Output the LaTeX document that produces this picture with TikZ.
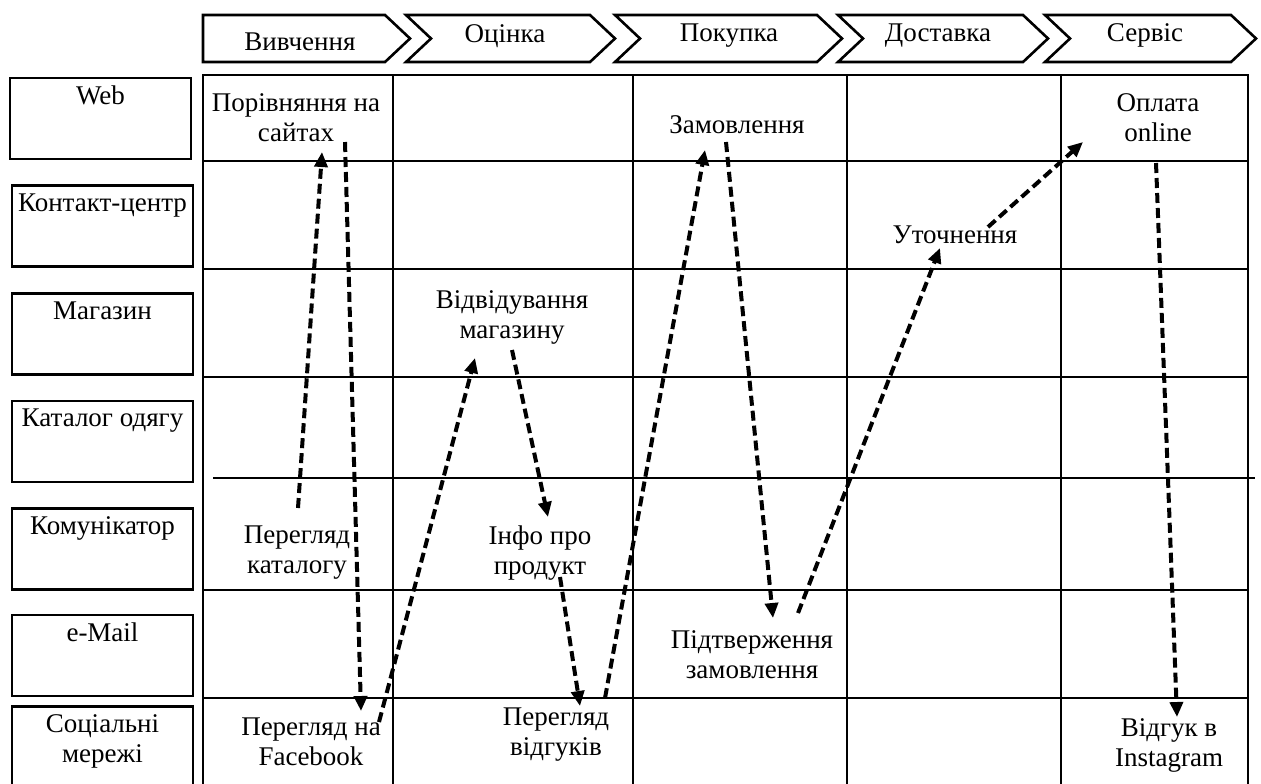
\documentclass[tikz,border=0pt]{standalone}
\usepackage{fontspec}
\setmainfont{Liberation Serif}
\usetikzlibrary{arrows.meta}

\tikzset{
  stage/.style={line width=1.3pt},
  stagetext/.style={anchor=base, inner sep=0pt},
  chan/.style={draw, line width=1.3pt, minimum width=90.5pt, minimum height=40.5pt, inner sep=0pt},
  chantext/.style={anchor=north, inner sep=4.5pt, align=center},
  touch/.style={align=center, inner sep=1pt},
  cell/.style={line width=0.7pt},
  flow/.style={-{Triangle[length=7.5pt,width=6.5pt]}, line width=2pt, dash pattern=on 5pt off 2.5pt},
}

\begin{document}
\begin{tikzpicture}[x=0.5pt, y=-0.5pt, font=\fontsize{13.5}{15}\selectfont]
  \useasboundingbox (0,0) rectangle (1261,783);

  % stages
  \draw[stage] (203,15) -- (385,15) -- (410,38.5) -- (385,62) -- (203,62) -- cycle;
  \draw[stage] (406,15) -- (590,15) -- (615,38.5) -- (590,62) -- (406,62) -- (431,38.5) -- cycle;
  \draw[stage] (615,15) -- (817,15) -- (842,38.5) -- (817,62) -- (615,62) -- (640,38.5) -- cycle;
  \draw[stage] (838,15) -- (1023,15) -- (1048,38.5) -- (1023,62) -- (838,62) -- (863,38.5) -- cycle;
  \draw[stage] (1045,15) -- (1231,15) -- (1256,38.5) -- (1231,62) -- (1045,62) -- (1070,38.5) -- cycle;
  \node[stagetext] (explore) at (300,50) {Вивчення};
  \node[stagetext] (assess) at (505,42) {Оцінка};
  \node[stagetext] (buy) at (729,41) {Покупка};
  \node[stagetext] (deliver) at (938,41) {Доставка};
  \node[stagetext] (service) at (1145,41) {Сервіс};

  % channels
  \node[chan, label={[chantext]north:Web}] (web) at (100.5,118.5) {};
  \node[chan, label={[chantext]north:Контакт-центр}] (call) at (102.5,226) {};
  \node[chan, label={[chantext]north:Магазин}] (shop) at (102.5,334) {};
  \node[chan, label={[chantext]north:Каталог одягу}] (catalog) at (102.5,441.5) {};
  \node[chan, label={[chantext]north:Комунікатор}] (messenger) at (102.5,549) {};
  \node[chan, label={[chantext]north:e-Mail}] (email) at (102.5,655.5) {};
  \node[chan, label={[chantext]north:Соціальні\\мережі}] (social) at (102.5,747) {};

  % grid
  \draw[line width=1.4pt] (203,75) rectangle (1248,795);
  \foreach \x in {393,633,847,1061}
    \draw[cell] (\x,75) -- (\x,795);
  \foreach \y in {161,269,377,590,698}
    \draw[cell] (203,\y) -- (1248,\y);
  \draw[cell] (213,478) -- (1255,478);

  % touchpoints
  \node[touch] (porivn) at (296,118) {Порівняння на\\сайтах};
  \node[touch] (zam) at (737,125) {Замовлення};
  \node[touch] (oplata) at (1158,118) {Оплата\\online};
  \node[touch] (utoch) at (955,235) {Уточнення};
  \node[touch] (vidv) at (512,317) {Відвідування\\магазину};
  \node[touch] (katal) at (297,553) {Перегляд\\каталогу};
  \node[touch] (info) at (540,553) {Інфо про\\продукт};
  \node[touch] (pidtv) at (752,655) {Підтверження\\замовлення};
  \node[touch] (fb) at (311,742) {Перегляд на\\Facebook};
  \node[touch] (vidguk) at (556,735) {Перегляд\\відгуків};
  \node[touch] (insta) at (1169,745) {Відгук в\\Instagram};

  % path of the customer
  \draw[flow] ([shift={(1,-45)}]katal.center) -- ([shift={(26,34)}]porivn.center);
  \draw[flow] ([shift={(49,24)}]porivn.center) -- ([shift={(50,-31)}]fb.center);
  \draw[flow] ([shift={(68,-20)}]fb.center) -- ([shift={(-37,41)}]vidv.center);
  \draw[flow] ([shift={(0,33)}]vidv.center) -- ([shift={(8,-36)}]info.center);
  \draw[flow] ([shift={(20,24)}]info.center) -- ([shift={(24,-29)}]vidguk.center);
  \draw[flow] ([shift={(49,-37)}]vidguk.center) -- ([shift={(-32,25)}]zam.center);
  \draw[flow] ([shift={(-11,17)}]zam.center) -- ([shift={(21,-37)}]pidtv.center);
  \draw[flow] ([shift={(46,-42)}]pidtv.center) -- ([shift={(-15,13)}]utoch.center);
  \draw[flow] ([shift={(33,-8)}]utoch.center) -- ([shift={(-75,24)}]oplata.center);
  \draw[flow] ([shift={(-2,45)}]oplata.center) -- ([shift={(8,-28)}]insta.center);
\end{tikzpicture}
\end{document}
